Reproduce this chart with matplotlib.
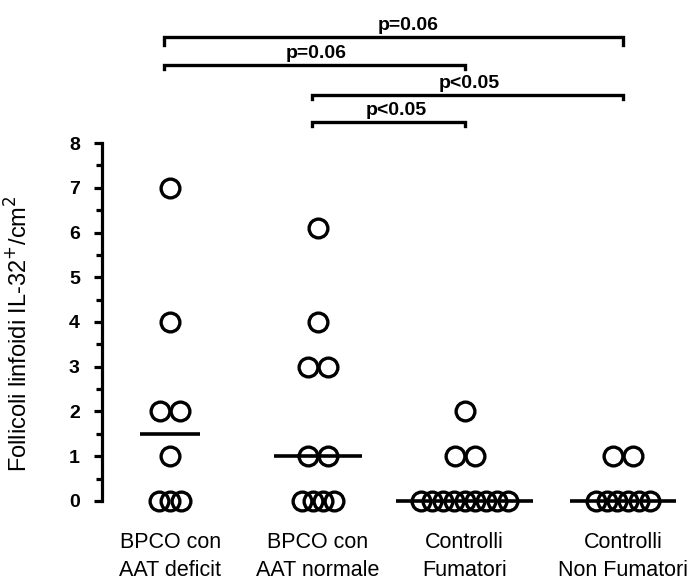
import numpy as np
import matplotlib
matplotlib.use("Agg")
import matplotlib.pyplot as plt

plt.rcParams['font.family'] = ['Liberation Sans', 'DejaVu Sans']

# Groups and their x positions
groups = ["BPCO con\nAAT deficit", "BPCO con\nAAT normale",
          "Controlli\nFumatori", "Controlli\nNon Fumatori"]
xpos = [1.0, 2.0, 2.99, 4.06]

# Lymphoid follicles IL-32+ per cm2, one value per subject
aat_deficit = [7, 4, 2, 2, 1, 0, 0, 0]
aat_normale = [6.1, 4, 3, 3, 1, 1, 0, 0, 0, 0]
fumatori = [2, 1, 1, 0, 0, 0, 0, 0, 0, 0, 0, 0]
non_fumatori = [1, 1, 0, 0, 0, 0, 0, 0]
series = [aat_deficit, aat_normale, fumatori, non_fumatori]

# Median bar half-widths (x units)
median_halfwidth = [0.2, 0.3, 0.46, 0.36]

# Significance brackets: (group i, group j, label, bracket level)
comparisons = [(0, 3, "p=0.06", 10.37),
               (0, 2, "p=0.06", 9.74),
               (1, 3, "p<0.05", 9.07),
               (1, 2, "p<0.05", 8.47)]
label_x = [2.61, 1.99, 3.02, 2.53]

fig = plt.figure(figsize=(6.88, 5.83), dpi=100)
ax = fig.add_axes([102 / 688, 62 / 583, 586 / 688, 521 / 583])
ax.set_xlim(0.54, 4.5)
ax.set_ylim(-0.45, 11.2)

px_per_x = 148.0  # pixels per x unit


def spread(values, center):
    """Place tied values side by side around the group center."""
    xs = np.zeros(len(values))
    vals = np.array(values, dtype=float)
    for v in np.unique(vals):
        idx = np.where(vals == v)[0]
        n = len(idx)
        step = (20 if n <= 2 else 10.8) / px_per_x
        offs = (np.arange(n) - (n - 1) / 2) * step
        xs[idx] = center + offs
    return xs


for x0, vals, hw in zip(xpos, series, median_halfwidth):
    xs = spread(vals, x0)
    ax.plot(xs, vals, linestyle='none', marker='o', markersize=13.5,
            markerfacecolor='none', markeredgecolor='black',
            markeredgewidth=2.4, clip_on=False, zorder=3)
    med = np.median(vals)
    ax.plot([x0 - hw, x0 + hw], [med, med], color='black', lw=2.6,
            solid_capstyle='butt', zorder=2, clip_on=False)

# Brackets
for (i, j, lab, lvl), lx in zip(comparisons, label_x):
    xa, xb = xpos[i] - 0.04, xpos[j] + 0.0
    drop = 0.17 if lvl > 10 else 0.08
    ax.plot([xa, xa, xb, xb], [lvl - drop, lvl, lvl, lvl - drop],
            color='black', lw=2.4, clip_on=False, solid_joinstyle='miter')
    ax.text(lx, lvl + 0.08, lab, ha='center', va='bottom',
            fontsize=14, fontweight='bold')

# Axes styling
for s in ['top', 'right', 'bottom']:
    ax.spines[s].set_visible(False)
ax.spines['left'].set_linewidth(2.3)
ax.spines['left'].set_bounds(0, 8)
ax.set_yticks(np.arange(0, 9))
ax.set_yticks(np.arange(0.5, 8, 1), minor=True)
ax.tick_params(axis='y', which='major', direction='out', length=6,
               width=2.3, labelsize=14, pad=10)
ax.tick_params(axis='y', which='minor', direction='out', length=4,
               width=2.3)
for t in ax.get_yticklabels():
    t.set_fontweight('bold')

ax.set_xticks(xpos)
ax.set_xticklabels(groups, fontsize=15.5, linespacing=1.4)
ax.tick_params(axis='x', length=0, pad=8)

fig.text(19 / 688, 1 - 334 / 583, "Follicoli linfoidi IL-32$^{+}$/cm$^{2}$",
         rotation=90, ha='center', va='center', fontsize=17)

fig.savefig("out.png", dpi=100)
